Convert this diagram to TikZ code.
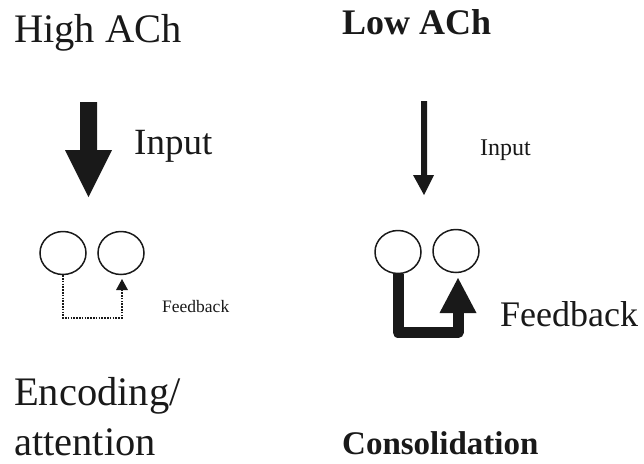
\documentclass[tikz,border=0pt]{standalone}
\usepackage{fontspec}
\setmainfont{Liberation Serif}
\usetikzlibrary{shapes.geometric}
\begin{document}
\begin{tikzpicture}[x=1pt,y=-1pt,
  lbl/.style={anchor=base west,inner sep=0pt,text=black!90},
  cell/.style={draw=black!90,ellipse,line width=1.5pt,minimum width=46pt,minimum height=43pt,inner sep=0pt},
  ink/.style={fill=black!90,draw=none}]
\useasboundingbox (0,0) rectangle (644,463);
% titles
\node[lbl,font=\fontsize{40.5}{48}\selectfont] (t1) at (14,42) {High ACh};
\node[lbl,font=\fontsize{36}{43}\selectfont\bfseries] (t2) at (342,34) {Low ACh};
\node[lbl,font=\fontsize{40.5}{48}\selectfont] (b1) at (14,405) {Encoding/};
\node[lbl,font=\fontsize{40.5}{48}\selectfont] (b2) at (14,455) {attention};
\node[lbl,font=\fontsize{33}{40}\selectfont\bfseries] (b3) at (342,454) {Consolidation};
% left panel
\node[lbl,font=\fontsize{37}{44}\selectfont] (in1) at (134,154) {Input};
\node[cell] (c1) at (63,253) {};
\node[cell] (c2) at (121,253) {};
\fill[ink] (80,102) -- (97,102) -- (97,150) -- (112,150) -- (88.5,197) -- (65,150) -- (80,150) -- cycle;
\coordinate (l1) at (c1.south |- 0,318);
\coordinate (ltip) at (122,279);
\draw[black!90,line width=1.6pt,dash pattern=on 1.6pt off 1.2pt] (c1.south) -- (l1) -- (l1 -| ltip) -- (122,289);
\fill[ink] (116,290) -- (128,290) -- (ltip) -- cycle;
\node[lbl,font=\fontsize{17.5}{21}\selectfont] (fb1) at (162,312) {Feedback};
% right panel
\node[lbl,font=\fontsize{24}{29}\selectfont] (in2) at (480,155) {Input};
\node[cell] (d1) at (398,252) {};
\node[cell] (d2) at (456,251) {};
\fill[ink] (421,101) -- (427,101) -- (427,175) -- (434,175) -- (424,195) -- (413,175) -- (421,175) -- cycle;
\coordinate (r1) at (d1.south |- 0,332.5);
\coordinate (r2) at (458,332.5);
\draw[black!90,line width=11pt,line join=round] (d1.south) -- (r1) -- (r2) -- (458,312);
\fill[ink] (439.5,313) -- (476.5,313) -- (458,278) -- cycle;
\node[lbl,font=\fontsize{36}{43}\selectfont] (fb2) at (500,326) {Feedback};
\end{tikzpicture}
\end{document}
